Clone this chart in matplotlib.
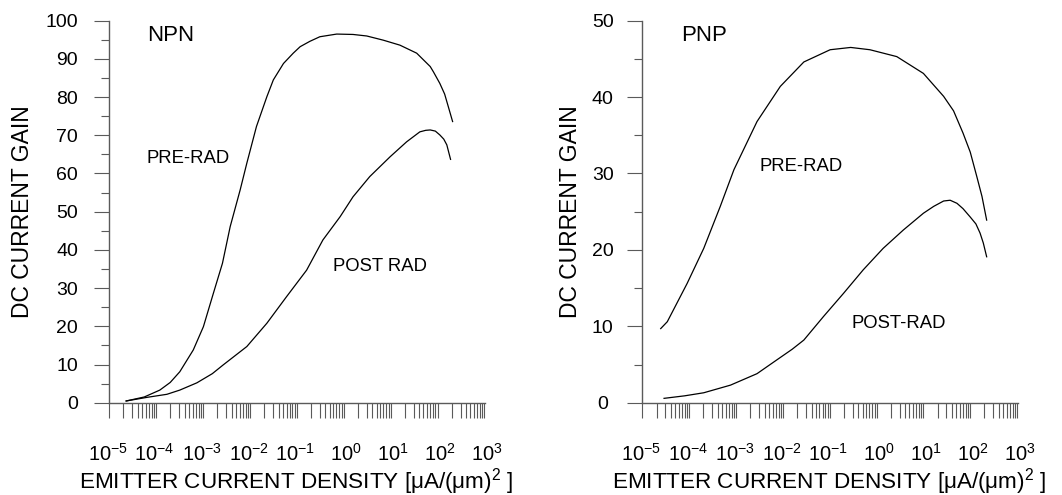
import matplotlib
matplotlib.use('Agg')
import matplotlib.pyplot as plt
import matplotlib.transforms as mtrans
from matplotlib.ticker import FixedLocator, NullFormatter
import numpy as np

plt.rcParams['font.family'] = ['Liberation Sans', 'DejaVu Sans']
plt.rcParams['mathtext.fontset'] = 'custom'
plt.rcParams['mathtext.rm'] = 'Liberation Sans'
plt.rcParams['mathtext.it'] = 'Liberation Sans:italic'
plt.rcParams['mathtext.bf'] = 'Liberation Sans:bold'
plt.rcParams['mathtext.default'] = 'regular'

# ---------------- data ----------------
npn_pre_x = [1.15e-5, 2.8e-5, 6.0e-5, 1.0e-4, 1.6e-4, 3.1e-4, 5.1e-4, 8.3e-4, 1.3e-3,
             1.9e-3, 3.1e-3, 4.3e-3, 6.9e-3, 1.15e-2, 1.58e-2, 2.6e-2, 4.2e-2, 5.9e-2,
             9.5e-2, 0.155, 0.355, 0.79, 1.55, 3.5, 7.9, 18, 35, 41, 56, 71, 85, 105]
npn_pre_y = [0.45, 1.5, 3.3, 5.3, 8.1, 13.8, 19.9, 28.6, 36.5, 46.1, 55.7, 62.7, 72.3,
             80.1, 84.5, 88.8, 91.5, 93.2, 94.6, 95.8, 96.5, 96.4, 96.0, 94.9, 93.6,
             91.5, 88.0, 86.6, 83.6, 80.8, 77.5, 73.6]

npn_post_x = [1.15e-5, 3.2e-5, 8.5e-5, 1.6e-4, 3.7e-4, 7.9e-4, 1.35e-3, 4.3e-3, 1.15e-2,
              3.0e-2, 8.1e-2, 0.18, 0.42, 0.79, 1.8, 4.9, 11, 21, 28, 35, 45, 56, 68,
              79, 95]
npn_post_y = [0.45, 1.4, 2.2, 3.3, 5.2, 7.6, 9.9, 14.7, 20.8, 27.7, 34.7, 42.6, 48.7,
              53.9, 59.2, 64.4, 68.3, 70.9, 71.3, 71.4, 71.1, 70.1, 69.0, 67.5, 63.7]

pnp_pre_x = [1.23e-5, 1.7e-5, 4.5e-5, 1.02e-4, 2.3e-4, 4.5e-4, 1.4e-3, 4.4e-3, 1.4e-2,
             5.1e-2, 0.14, 0.36, 1.35, 5.0, 13.5, 22, 35, 50, 69, 89, 112]
pnp_pre_y = [9.7, 10.6, 15.6, 20.2, 25.7, 30.5, 36.8, 41.4, 44.6, 46.2, 46.5, 46.2,
             45.3, 43.1, 40.1, 38.2, 35.3, 32.8, 29.6, 27.0, 23.9]

pnp_post_x = [1.45e-5, 4.0e-5, 1.02e-4, 3.8e-4, 1.4e-3, 3.7e-3, 7.9e-3, 1.4e-2, 3.7e-2,
              9.8e-2, 0.26, 0.69, 1.86, 5.0, 8.3, 13.5, 18.6, 26, 35, 50, 66, 81, 95,
              112]
pnp_post_y = [0.57, 0.9, 1.3, 2.3, 3.8, 5.6, 7.0, 8.2, 11.3, 14.3, 17.4, 20.2, 22.6,
              24.8, 25.7, 26.4, 26.5, 26.1, 25.4, 24.3, 23.4, 22.2, 20.9, 19.1]

decade_exponents = [-5, -4, -3, -2, -1, 0, 1, 2, 3]
decade_labels = [r'$10^{-5}$', r'$10^{-4}$', r'$10^{-3}$', r'$10^{-2}$', r'$10^{-1}$',
                 r'$10^{0}$', r'$10^{1}$', r'$10^{2}$', r'$10^{3}$']

x_label = r'EMITTER CURRENT DENSITY [μA/(μm)$^{2}$ ]'
y_label = 'DC CURRENT GAIN'

# ---------------- styling ----------------
W, H = 1062, 495
fig = plt.figure(figsize=(W / 100, H / 100), dpi=100)
axis_col = '#5a5a5a'

xmin_exp, xmax_exp = -5.316, 2.712
minor_frac = [0.19, 0.31, 0.40, 0.48, 0.545, 0.607, 0.656, 0.70]


def setup(ax, ymax, ystep, title, pre_lbl, post_lbl, pre_pos, post_pos, title_pos,
          center_ylabels, ylabel_x):
    ax.set_xscale('log')
    ax.set_xlim(10 ** xmin_exp, 10 ** xmax_exp)
    ax.set_ylim(0, ymax)
    for s in ['top', 'right']:
        ax.spines[s].set_visible(False)
    for s in ['left', 'bottom']:
        ax.spines[s].set_color(axis_col)
        ax.spines[s].set_linewidth(1.0)
    majors = [10.0 ** e for e in decade_exponents if e <= xmax_exp]
    minors = [10.0 ** xmin_exp] + [10.0 ** (e + f) for e in decade_exponents
                                   for f in minor_frac if e + f <= xmax_exp]
    ax.xaxis.set_major_locator(FixedLocator(majors))
    ax.xaxis.set_minor_locator(FixedLocator(minors))
    ax.xaxis.set_major_formatter(NullFormatter())
    ax.xaxis.set_minor_formatter(NullFormatter())
    ax.tick_params(axis='x', which='both', direction='out', length=11, width=0.8,
                   color=axis_col, labelbottom=False)
    ax.set_yticks(np.arange(0, ymax + 0.1, ystep))
    ax.set_yticks(np.arange(ystep / 2, ymax, ystep), minor=True)
    ax.tick_params(axis='y', which='major', direction='out', length=11, width=0.8,
                   color=axis_col, labelsize=14,
                   pad=(17 if center_ylabels else 11))
    ax.tick_params(axis='y', which='minor', direction='out', length=5.8, width=0.8,
                   color=axis_col)
    if center_ylabels:
        for lb in ax.get_yticklabels():
            lb.set_horizontalalignment('center')

    off = mtrans.ScaledTranslation(0.045, -0.58, fig.dpi_scale_trans)
    for e, lbl in zip(decade_exponents, decade_labels):
        ax.text(10.0 ** e, 0, lbl, transform=ax.get_xaxis_transform() + off,
                ha='right', va='baseline', fontsize=14.5)

    ax.set_xlabel(x_label, fontsize=16.2)
    ax.xaxis.set_label_coords(0.5, -(488.5 - 402.7) / 382)
    ax.xaxis.label.set_va('baseline')
    ax.set_ylabel(y_label, fontsize=16.5)
    ax.yaxis.set_label_coords(ylabel_x, 0.5)
    ax.yaxis.label.set_va('baseline')

    ax.text(title_pos[0], title_pos[1], title, transform=ax.transAxes,
            ha='left', va='baseline', fontsize=16)
    ax.text(pre_pos[0], pre_pos[1], pre_lbl, transform=ax.transAxes,
            ha='left', va='baseline', fontsize=13.3)
    ax.text(post_pos[0], post_pos[1], post_lbl, transform=ax.transAxes,
            ha='left', va='baseline', fontsize=13.3)


ax1 = fig.add_axes([108.5 / W, (H - 402.7) / H, 376.5 / W, 382 / H])
ax2 = fig.add_axes([641.7 / W, (H - 402.7) / H, 376.0 / W, 382 / H])

ax1.plot(npn_pre_x, npn_pre_y, color='black', lw=0.9)
ax1.plot(npn_post_x, npn_post_y, color='black', lw=0.9)
ax2.plot(pnp_pre_x, pnp_pre_y, color='black', lw=0.9)
ax2.plot(pnp_post_x, pnp_post_y, color='black', lw=0.9)

setup(ax1, 100, 10, 'NPN', 'PRE-RAD', 'POST RAD',
      (0.1015, 0.6275), (0.5955, 0.3448), (0.1015, 0.947), False,
      (29.5 - 108.5) / 376.5)
setup(ax2, 50, 10, 'PNP', 'PRE-RAD', 'POST-RAD',
      (0.3128, 0.6065), (0.5593, 0.1955), (0.1037, 0.9458), True,
      (576.7 - 641.7) / 376.0)

fig.savefig('out.png', dpi=100)
